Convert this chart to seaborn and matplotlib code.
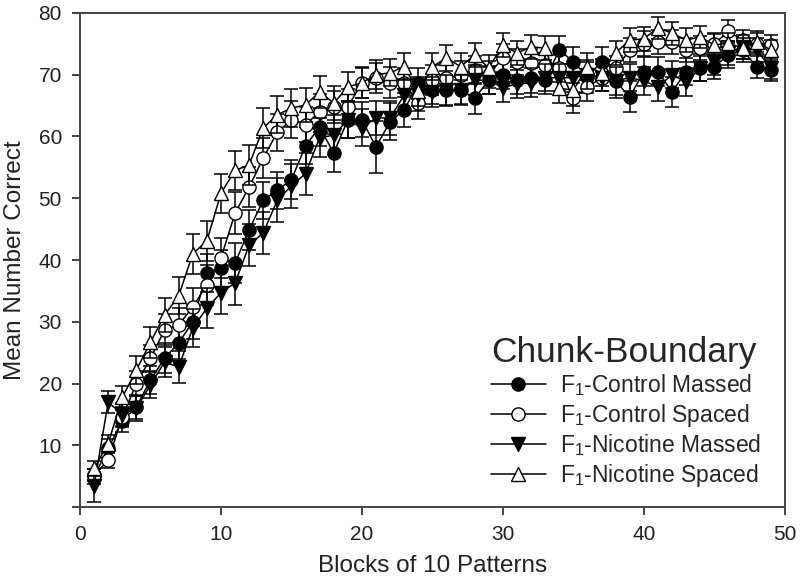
import numpy as np
import pandas as pd
import matplotlib
matplotlib.use("Agg")
import matplotlib.pyplot as plt
import seaborn as sns
from matplotlib.lines import Line2D

blocks = list(range(1, 50))

# Control Massed (filled circle)
ctrl_massed = [5.0, 9.5, 14.0, 16.2, 20.6, 24.1, 26.6, 30.0, 37.9, 38.7,
               39.5, 44.9, 49.7, 51.3, 53.0, 58.5, 61.5, 57.3, 62.7, 62.7,
               58.3, 62.4, 64.3, 68.6, 67.5, 67.5, 67.5, 66.2, 69.1, 70.0,
               69.1, 69.5, 69.1, 74.0, 72.1, 69.6, 72.1, 68.9, 66.4, 70.5,
               70.5, 67.2, 70.5, 71.1, 71.3, 73.2, 74.0, 71.3, 70.8]
ctrl_massed_err = [1.2, 1.5, 1.8, 2.0, 2.2, 2.4, 2.6, 2.8, 3.0, 3.0,
                   3.2, 3.2, 3.0, 3.0, 3.2, 3.0, 3.0, 3.1, 3.0, 2.8,
                   4.2, 3.0, 2.8, 2.5, 2.2, 2.4, 2.2, 2.5, 2.2, 2.3,
                   2.2, 2.4, 2.2, 2.2, 2.3, 2.5, 2.3, 2.6, 2.5, 2.4,
                   2.3, 2.4, 2.2, 2.2, 2.0, 2.2, 2.0, 1.8, 1.9]

# Control Spaced (open circle)
ctrl_spaced = [5.2, 7.6, 14.6, 20.0, 24.1, 28.7, 29.5, 32.4, 36.0, 40.3,
               47.6, 51.8, 56.5, 60.7, 62.7, 61.9, 64.0, 64.8, 64.8, 68.7,
               69.5, 68.7, 68.7, 65.4, 69.1, 69.5, 70.0, 70.8, 70.0, 72.7,
               72.0, 71.9, 71.5, 71.0, 66.2, 68.0, 69.5, 71.0, 74.0, 75.0,
               75.3, 75.3, 74.0, 74.3, 75.0, 77.0, 75.6, 75.0, 74.8]
ctrl_spaced_err = [1.0, 1.2, 1.6, 2.0, 2.2, 2.5, 2.8, 3.0, 3.2, 3.2,
                   3.4, 3.2, 3.2, 3.0, 3.0, 2.8, 2.8, 2.6, 2.8, 2.5,
                   2.4, 2.5, 2.3, 2.6, 2.4, 2.3, 2.2, 2.3, 2.2, 2.2,
                   2.1, 2.2, 2.0, 2.2, 2.4, 2.3, 2.2, 2.1, 2.0, 2.0,
                   1.9, 2.0, 2.0, 1.9, 1.8, 1.8, 1.7, 1.7, 1.6]

# Nicotine Massed (filled down triangle)
nic_massed = [3.5, 17.0, 15.0, 16.0, 19.8, 23.5, 22.7, 29.0, 32.2, 34.7,
              36.3, 42.4, 44.4, 49.7, 52.0, 54.0, 59.8, 60.2, 62.7, 61.4,
              63.0, 63.0, 66.7, 66.7, 67.2, 67.5, 67.5, 69.1, 69.1, 67.9,
              68.5, 68.7, 69.5, 69.5, 69.5, 70.0, 69.5, 69.0, 69.5, 69.0,
              68.0, 70.0, 68.8, 71.0, 72.0, 73.5, 74.5, 74.0, 71.1]
nic_massed_err = [2.7, 1.8, 1.8, 2.0, 2.2, 2.4, 2.6, 3.0, 3.2, 3.5,
                  3.5, 3.4, 3.4, 3.5, 3.5, 3.4, 3.2, 3.2, 3.0, 3.0,
                  2.8, 2.8, 2.6, 2.6, 2.5, 2.5, 2.4, 2.4, 2.3, 2.4,
                  2.3, 2.3, 2.2, 2.2, 2.3, 2.3, 2.2, 2.3, 2.2, 2.3,
                  2.3, 2.2, 2.2, 2.1, 2.0, 2.0, 1.9, 1.9, 1.8]

# Nicotine Spaced (open up triangle)
nic_spaced = [6.3, 10.3, 17.8, 22.2, 26.7, 31.1, 34.2, 41.0, 43.1, 50.8,
              54.5, 55.4, 61.4, 63.5, 64.6, 65.1, 67.2, 65.4, 68.0, 68.7,
              70.0, 70.3, 71.3, 67.3, 71.3, 72.7, 71.3, 73.2, 71.1, 74.8,
              73.5, 74.5, 74.3, 67.8, 67.5, 71.3, 70.3, 73.5, 75.6, 75.8,
              77.6, 76.7, 75.6, 76.1, 74.8, 75.1, 74.3, 75.3, 74.0]
nic_spaced_err = [1.2, 1.4, 1.8, 2.2, 2.5, 2.8, 3.0, 3.2, 3.2, 3.2,
                  3.2, 3.2, 3.2, 3.0, 3.0, 2.8, 2.6, 2.8, 2.5, 2.4,
                  2.3, 2.2, 2.2, 2.4, 2.2, 2.1, 2.2, 2.0, 2.1, 2.0,
                  2.0, 1.9, 2.0, 2.4, 2.5, 2.2, 2.2, 2.0, 1.9, 1.9,
                  1.8, 1.9, 1.9, 1.8, 1.8, 1.7, 1.7, 1.7, 1.6]

names = ["F$_1$-Control Massed", "F$_1$-Control Spaced",
         "F$_1$-Nicotine Massed", "F$_1$-Nicotine Spaced"]
means = [ctrl_massed, ctrl_spaced, nic_massed, nic_spaced]
errs = [ctrl_massed_err, ctrl_spaced_err, nic_massed_err, nic_spaced_err]
markers = ["o", "o", "v", "^"]
faces = ["black", "white", "black", "white"]

df = pd.concat([pd.DataFrame({"Block": blocks, "Mean": m, "SEM": e, "Group": n})
                for n, m, e in zip(names, means, errs)], ignore_index=True)

sns.set_style("ticks")
plt.rcParams['font.family'] = ['Liberation Sans', 'DejaVu Sans']
plt.rcParams['mathtext.fontset'] = 'custom'
plt.rcParams['mathtext.rm'] = 'Liberation Sans'

fig = plt.figure(figsize=(8, 5.85), dpi=100)
ax = fig.add_axes([0.1, 0.133, 0.881, 0.845])

# error bars first, then lines + markers on top
for i, name in enumerate(names):
    sub = df[df["Group"] == name]
    ax.errorbar(sub["Block"], sub["Mean"], yerr=sub["SEM"], fmt="none",
                ecolor="black", elinewidth=1.1, capsize=5, capthick=1.1,
                zorder=2 + i)
    sns.lineplot(data=sub, x="Block", y="Mean", ax=ax, color="black",
                 linewidth=1.1, marker=markers[i], markersize=9.5,
                 markerfacecolor=faces[i], markeredgecolor="black",
                 markeredgewidth=1.0, zorder=3 + i, legend=False)

ax.set_xlim(0, 50)
ax.set_ylim(0, 80)
ax.set_xticks([0, 10, 20, 30, 40, 50])
ax.set_yticks([0, 10, 20, 30, 40, 50, 60, 70, 80])
ax.set_yticklabels(["", "10", "20", "30", "40", "50", "60", "70", "80"])
ax.tick_params(direction="out", length=6, width=1.2, labelsize=15, pad=7,
               colors="#222222")
for s in ax.spines.values():
    s.set_visible(True)
    s.set_color("#444444")
    s.set_linewidth(1.4)
ax.set_xlabel("Blocks of 10 Patterns", fontsize=17.5, color="#222222", labelpad=8)
ax.set_ylabel("Mean Number Correct", fontsize=17.5, color="#222222", labelpad=9)

handles = [Line2D([0], [0], color="black", linewidth=1.1, marker=mk, markersize=9.5,
                  markerfacecolor=fc, markeredgecolor="black")
           for mk, fc in zip(markers, faces)]
leg = ax.legend(handles, names, title="Chunk-Boundary", loc="lower right",
                bbox_to_anchor=(0.995, -0.005), frameon=False, fontsize=16.5,
                handlelength=2.4, handletextpad=0.6, labelspacing=0.16,
                borderaxespad=0.5)
leg.get_title().set_fontsize(25.5)
leg._legend_box.align = "left"

fig.savefig("out.png", dpi=100)
